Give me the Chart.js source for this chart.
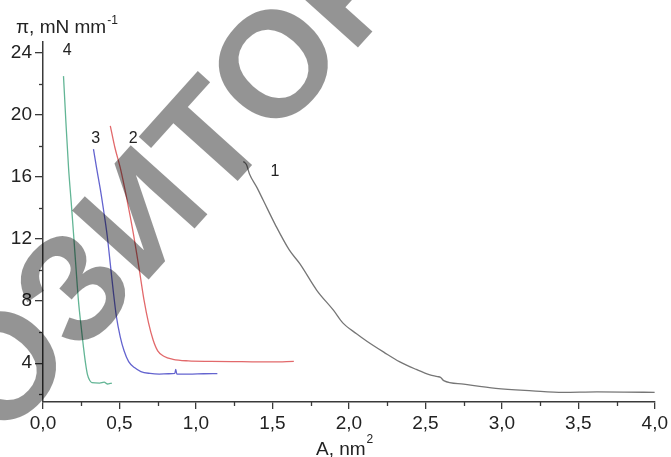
<!DOCTYPE html>
<html>
<head>
<meta charset="utf-8">
<script src="https://cdn.jsdelivr.net/npm/chart.js@4"></script>
<style>
  html, body { margin: 0; padding: 0; background: #fff; }
  #wrap { width: 671px; height: 457px; }
</style>
</head>
<body>
<div id="wrap"><canvas id="isotherm" width="671" height="457"></canvas></div>
<script>
// Изотермы сжатия: площадь на молекулу A (нм²) и поверхностное давление π (мН/м)
const curve1A  = [1.31, 1.33, 1.35, 1.40, 1.44, 1.52, 1.61, 1.68, 1.79, 1.90, 1.96, 2.05, 2.12, 2.23, 2.33, 2.44, 2.53, 2.58, 2.60, 2.62, 2.75, 2.96, 3.20, 3.40, 3.62, 3.80, 4.00];
const curve1Pi = [17.0, 16.8, 16.2, 15.3, 14.5, 12.9, 11.3, 10.4, 8.7, 7.4, 6.6, 5.9, 5.4, 4.7, 4.1, 3.6, 3.25, 3.14, 3.08, 2.88, 2.65, 2.38, 2.22, 2.12, 2.15, 2.14, 2.12];

const curve2A  = [0.44, 0.47, 0.505, 0.55, 0.59, 0.63, 0.66, 0.69, 0.72, 0.75, 0.79, 0.85, 0.95, 1.1, 1.3, 1.5, 1.64];
const curve2Pi = [19.3, 17.9, 16.6, 14.5, 12.4, 10.0, 8.1, 6.6, 5.5, 4.8, 4.45, 4.25, 4.15, 4.12, 4.1, 4.08, 4.12];

const curve3A  = [0.33, 0.35, 0.375, 0.40, 0.42, 0.44, 0.46, 0.48, 0.505, 0.53, 0.56, 0.60, 0.64, 0.70, 0.76, 0.82, 0.862, 0.868, 0.875, 0.95, 1.05, 1.14];
const curve3Pi = [17.8, 16.6, 15.2, 13.6, 12.2, 10.4, 8.6, 7.0, 5.7, 4.8, 4.1, 3.7, 3.46, 3.34, 3.3, 3.32, 3.35, 3.6, 3.3, 3.3, 3.32, 3.33];

const curve4A  = [0.134, 0.15, 0.167, 0.185, 0.2, 0.216, 0.232, 0.25, 0.265, 0.278, 0.29, 0.305, 0.32, 0.37, 0.40, 0.42, 0.45];
const curve4Pi = [22.5, 19.5, 16.6, 14.3, 12.3, 10.1, 8.0, 6.3, 5.0, 4.0, 3.3, 2.9, 2.75, 2.72, 2.78, 2.66, 2.72];

// Подписи кривых (номер и точка, где он стоит)
const curveNames  = ['1', '2', '3', '4'];
const curveNameA  = [1.517, 0.589, 0.345, 0.159];
const curveNamePi = [16.37, 18.5, 18.5, 24.15];

// Деления осей
const yTicks      = [4, 8, 12, 16, 20, 24];
const yMinorTicks = [2, 6, 10, 14, 18, 22];
const xMinorTicks = [0.25, 0.75, 1.25, 1.75, 2.25, 2.75, 3.25, 3.75];

const axisColor = '#3a3a3a';
const textColor = '#222';
const fontFamily = '"Liberation Sans", Arial, sans-serif';

const toPoints = (xs, ys) => xs.map((x, i) => ({ x: x, y: ys[i] }));

// Малые деления, подписи кривых, заголовки осей и водяной знак
const extrasPlugin = {
  id: 'extras',
  afterDraw(chart) {
    const ctx = chart.ctx;
    const xs = chart.scales.x;
    const ys = chart.scales.y;
    const area = chart.chartArea;

    ctx.save();
    ctx.strokeStyle = axisColor;
    ctx.lineWidth = 1.3;
    xMinorTicks.forEach(v => {
      const px = Math.round(xs.getPixelForValue(v)) + 0.5;
      ctx.beginPath();
      ctx.moveTo(px, area.bottom);
      ctx.lineTo(px, area.bottom + 4);
      ctx.stroke();
    });
    yMinorTicks.forEach(v => {
      const py = Math.round(ys.getPixelForValue(v)) + 0.5;
      ctx.beginPath();
      ctx.moveTo(area.left, py);
      ctx.lineTo(area.left - 4, py);
      ctx.stroke();
    });

    // номера кривых
    ctx.fillStyle = textColor;
    ctx.font = '16px ' + fontFamily;
    ctx.textAlign = 'center';
    ctx.textBaseline = 'middle';
    curveNames.forEach((name, i) => {
      ctx.fillText(name, xs.getPixelForValue(curveNameA[i]), ys.getPixelForValue(curveNamePi[i]));
    });

    // заголовок оси Y
    ctx.textAlign = 'left';
    ctx.textBaseline = 'alphabetic';
    ctx.font = '19px ' + fontFamily;
    ctx.fillText('\u03C0, mN mm', 16, 33);
    const w = ctx.measureText('\u03C0, mN mm').width;
    ctx.font = '12px ' + fontFamily;
    ctx.fillText('-1', 16 + w + 1, 24);

    // заголовок оси X
    ctx.font = '19px ' + fontFamily;
    ctx.fillText('A, nm', 316, 455);
    const w2 = ctx.measureText('A, nm').width;
    ctx.font = '12px ' + fontFamily;
    ctx.fillText('2', 316 + w2 + 1, 443);
    ctx.restore();

    // водяной знак (привязан к центру буквы «Т»)
    ctx.save();
    const size = 150;
    ctx.font = 'bold ' + size + 'px ' + fontFamily;
    ctx.fillStyle = 'rgba(0,0,0,0.42)';
    const lead = ctx.measureText('РЕПОЗИ').width + ctx.measureText('Т').width / 2;
    ctx.translate(205, 137);
    ctx.rotate(-48 * Math.PI / 180);
    ctx.textBaseline = 'alphabetic';
    ctx.fillText('РЕПОЗИТОРИЙ', -lead, size * 0.716 / 2);
    ctx.restore();
  }
};

const ctxIso = document.getElementById('isotherm').getContext('2d');
new Chart(ctxIso, {
  type: 'scatter',
  data: {
    datasets: [
      { label: '1', data: toPoints(curve1A, curve1Pi), borderColor: '#767676' },
      { label: '2', data: toPoints(curve2A, curve2Pi), borderColor: '#e2696b' },
      { label: '3', data: toPoints(curve3A, curve3Pi), borderColor: '#6464cf' },
      { label: '4', data: toPoints(curve4A, curve4Pi), borderColor: '#62b595' }
    ]
  },
  options: {
    responsive: false,
    animation: false,
    showLine: true,
    elements: {
      point: { radius: 0 },
      line: { borderWidth: 1.3, cubicInterpolationMode: 'monotone', fill: false }
    },
    layout: { padding: { top: 42, right: 16, left: 0, bottom: 0 } },
    scales: {
      x: {
        type: 'linear',
        min: 0,
        max: 4,
        border: { display: true, color: axisColor, width: 1.5 },
        grid: { display: true, drawOnChartArea: false, drawTicks: true, tickLength: 7, color: axisColor, lineWidth: 1.3 },
        ticks: {
          stepSize: 0.5,
          padding: 3,
          color: textColor,
          font: { family: fontFamily, size: 19 },
          maxRotation: 0,
          callback: v => v.toFixed(1).replace('.', ',')
        },
        afterFit: scale => { scale.height = 55; }
      },
      y: {
        type: 'linear',
        min: 1.5,
        max: 24.7,
        border: { display: true, color: axisColor, width: 1.5 },
        grid: { display: true, drawOnChartArea: false, drawTicks: true, tickLength: 8, color: axisColor, lineWidth: 1.3 },
        ticks: {
          padding: 3,
          color: textColor,
          font: { family: fontFamily, size: 19 },
          callback: v => String(v)
        },
        afterBuildTicks: scale => { scale.ticks = yTicks.map(v => ({ value: v })); },
        afterFit: scale => { scale.width = 43; }
      }
    },
    plugins: {
      legend: { display: false },
      tooltip: { enabled: false }
    }
  },
  plugins: [extrasPlugin]
});
</script>
</body>
</html>
